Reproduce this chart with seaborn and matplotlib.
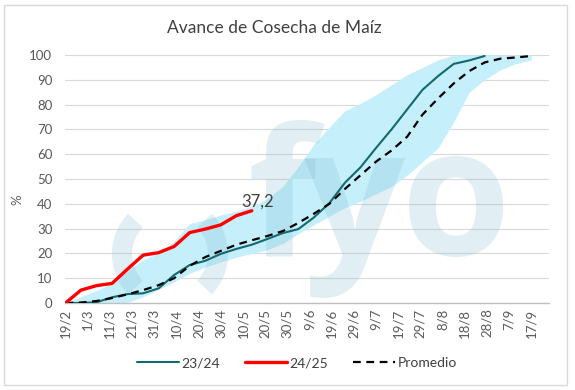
import matplotlib
matplotlib.use('Agg')
import matplotlib.pyplot as plt
import seaborn as sns
import pandas as pd
from matplotlib.patches import Arc, Rectangle

# weekly progress (%) starting 19/2
start = '2023-02-19'
campaign_2324 = [0, 0, 0.3, 2.3, 3.6, 3.9, 5.9, 11.3, 15.3, 17, 19.8, 21.8, 23.5, 25.8,
                 28.2, 29.8, 34.5, 40.3, 48.5, 54.7, 62.5, 70, 78, 86, 91.5, 96.4, 97.8, 99.6]
campaign_2425 = [0, 5.2, 7, 7.9, 13.7, 19.3, 20.3, 22.8, 28.4, 29.8, 31.5, 35.2, 37.2]
promedio = [0, 0.2, 0.8, 2, 3.5, 5.2, 7.2, 10, 15, 18.5, 21, 23.5, 25.3, 27, 29, 32.3,
            36, 40, 46, 51.5, 57, 61.5, 67, 76, 82.5, 88.5, 93.5, 97, 98.5, 99, 99.6]
band_min = [0, 0, 0, 0, 0.3, 2.5, 5.5, 8.5, 12, 14.5, 16.5, 18.5, 20, 21.5, 24, 28,
            31.5, 35, 38.5, 41, 44, 47, 51.5, 57, 62.5, 73, 85, 90, 94, 96.5, 98]
band_max = [0, 2.5, 5, 8, 13, 17.5, 20, 25, 32, 33.5, 35.5, 37, 39, 42, 47, 55,
            64, 71, 77.5, 80.5, 84, 88, 92, 95, 98, 100, 100, 100, 100, 100, 100]
tick_labels = ['19/2', '1/3', '11/3', '21/3', '31/3', '10/4', '20/4', '30/4', '10/5', '20/5',
               '30/5', '9/6', '19/6', '29/6', '9/7', '19/7', '29/7', '8/8', '18/8', '28/8',
               '7/9', '17/9']

weeks = pd.date_range(start, periods=len(promedio), freq='7D')
ticks = pd.date_range(start, periods=len(tick_labels), freq='10D')

sns.set_theme(style='white')
plt.rcParams['font.family'] = ['Lato', 'DejaVu Sans']

fig = plt.figure(figsize=(5.75, 3.9), dpi=100)
ax = fig.add_axes([0.1139, 0.2231, 0.8409, 0.6359])

# min-max band
ax.fill_between(weeks, band_min, band_max, color='#c5effb', lw=0, zorder=1)

# watermark
wm = dict(color='#82bcd1', alpha=0.24, zorder=1.5)
for letter, xc in [('f', 282), ('y', 355), ('o', 456)]:
    ax.text(xc / 575, 1 - 255 / 390, letter, transform=fig.transFigure, ha='center',
            va='baseline', fontsize=128, fontweight='bold',
            family=['Open Sans', 'DejaVu Sans'], clip_on=False, **wm)
for t1, t2 in [(125, 235), (-55, 55)]:
    ax.add_patch(Arc((170 / 575, 1 - 254 / 390), 96 / 575, 96 / 390, theta1=t1, theta2=t2,
                     transform=fig.transFigure, lw=14.5, capstyle='butt', clip_on=False, **wm))

sns.lineplot(x=weeks[:len(campaign_2324)], y=campaign_2324, color='#12696e', lw=1.5,
             label='23/24', ax=ax, zorder=3)
sns.lineplot(x=weeks[:len(campaign_2425)], y=campaign_2425, color='#ff0000', lw=2.4,
             label='24/25', ax=ax, zorder=4)
sns.lineplot(x=weeks, y=promedio, color='black', lw=1.6, linestyle=(0, (3.5, 2.5)),
             label='Promedio', ax=ax, zorder=3)

ax.annotate('37,2', xy=(weeks[len(campaign_2425) - 1], campaign_2425[-1]), xytext=(4.5, 3),
            textcoords='offset points', ha='center', va='baseline', fontsize=12,
            color='#404040', zorder=5)

ax.set_xlim(weeks[0], weeks[0] + pd.Timedelta(days=218))
ax.set_ylim(0, 100)
ax.set_yticks(range(0, 101, 10))
ax.set_xticks(ticks)
ax.set_xticklabels(tick_labels, rotation=90)
ax.grid(axis='y', color='#d9d9d9', lw=0.8)
ax.set_axisbelow(True)
ax.tick_params(axis='y', length=0, pad=9.5, labelsize=9.5, labelcolor='#595959')
ax.tick_params(axis='x', length=0, pad=4, labelsize=9.5, labelcolor='#595959')
for s in ['left', 'top', 'right']:
    ax.spines[s].set_visible(False)
ax.spines['bottom'].set_color('#bfbfbf')
ax.spines['bottom'].set_linewidth(1)
ax.set_xlabel('')
ax.set_ylabel('')

fig.text(17 / 575, 1 - 200 / 390, '%', rotation=90, ha='center', va='center',
         fontsize=9.5, color='#595959')
fig.text(0.478, 0.928, 'Avance de Cosecha de Maíz', ha='center', va='center',
         fontsize=12.5, color='#404040')

handles, labels = ax.get_legend_handles_labels()
ax.get_legend().remove()
fig.legend(handles, labels, loc='center', bbox_to_anchor=(0.517, 0.069), ncol=3,
           frameon=False, fontsize=10, handlelength=3, handletextpad=0.2,
           columnspacing=1.8, labelcolor='#404040')

fig.patches.append(Rectangle((0.007, 0.012), 0.979, 0.975, transform=fig.transFigure,
                             fill=False, ec='#d9d9d9', lw=1))

fig.savefig('out.png', dpi=100)
